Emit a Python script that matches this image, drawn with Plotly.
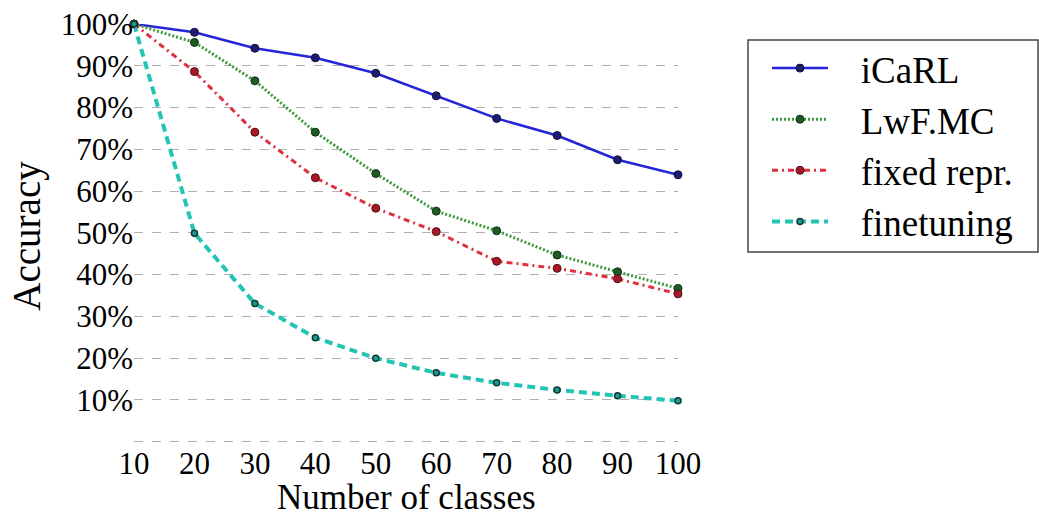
import plotly.graph_objects as go

classes = [10, 20, 30, 40, 50, 60, 70, 80, 90, 100]
icarl = [100, 98.0, 94.2, 91.9, 88.2, 82.8, 77.4, 73.3, 67.5, 63.9]
lwf = [100, 95.6, 86.4, 74.1, 64.2, 55.2, 50.5, 44.7, 40.7, 36.7]
fixed = [100, 88.6, 74.1, 63.2, 55.9, 50.3, 43.2, 41.5, 39.0, 35.4]
finetune = [100, 49.9, 33.1, 24.9, 20.0, 16.5, 14.1, 12.4, 11.0, 9.8]
names = ["iCaRL", "LwF.MC", "fixed repr.", "finetuning"]
ytick_vals = [0, 10, 20, 30, 40, 50, 60, 70, 80, 90, 100]
ytick_text = [""] + [f"{v}%" for v in ytick_vals[1:]]
x_title = "Number of classes"
y_title = "Accuracy"

FONT = "Liberation Serif"
NBSP = "\u00a0"

styles = [
    dict(line=dict(color="#2424d8", width=2.5, dash="solid"),
         marker=dict(color="#1c1c70", size=8, line=dict(color="#101040", width=1))),
    dict(line=dict(color="#3c9a3c", width=3, dash="2px,2px"),
         marker=dict(color="#1e5a22", size=8, line=dict(color="#103010", width=1))),
    dict(line=dict(color="#e03040", width=3, dash="6px,4px,2px,4px"),
         marker=dict(color="#a81828", size=8, line=dict(color="#501010", width=1))),
    dict(line=dict(color="#22c4b4", width=4, dash="8px,5px"),
         marker=dict(color="#1d9a90", size=6, line=dict(color="#0c3a36", width=1.5))),
]

fig = go.Figure()
for i, (nm, ys) in enumerate(zip(names, [icarl, lwf, fixed, finetune])):
    fig.add_trace(go.Scatter(
        x=classes, y=ys, name=NBSP * 3 + nm, mode="lines+markers",
        line=styles[i]["line"], marker=styles[i]["marker"],
        cliponaxis=False, legendgroup=nm,
    ))

# legend frame
fig.add_shape(type="rect", xref="paper", yref="paper",
              x0=1.1287, x1=1.6618, y0=0.4624, y1=0.9623,
              line=dict(color="#444444", width=1.5), fillcolor="rgba(0,0,0,0)")

# x axis title placed as annotation so it can sit low like the reference
fig.add_annotation(text=x_title, xref="paper", yref="paper", x=0.5, y=-0.117,
                   xanchor="center", yanchor="middle", showarrow=False,
                   borderpad=0,
                   font=dict(family=FONT, size=35, color="black"))

fig.update_layout(
    width=1039, height=518,
    margin=dict(l=134, r=361, t=24, b=70, autoexpand=False),
    paper_bgcolor="white", plot_bgcolor="white",
    font=dict(family=FONT, color="black", size=31),
    showlegend=True,
    legend=dict(
        x=1.1636, y=0.968, xanchor="left", yanchor="top",
        borderwidth=0, bgcolor="rgba(0,0,0,0)",
        font=dict(family=FONT, size=37, color="black"),
        tracegroupgap=0, traceorder="grouped", itemwidth=56,
    ),
    xaxis=dict(
        range=[10, 100], tickvals=classes, showgrid=False, zeroline=False,
        showline=False, ticks="", tickfont=dict(size=31), ticklabelstandoff=-6,
    ),
    yaxis=dict(
        range=[-1.5, 100], tickvals=ytick_vals, ticktext=ytick_text,
        showgrid=True, gridcolor="#b0b0b0", griddash="dash", gridwidth=1,
        zeroline=False, showline=False, ticks="", tickfont=dict(size=31),
        title=dict(text=y_title, font=dict(size=39), standoff=8),
    ),
)

fig.write_html("out.html")
